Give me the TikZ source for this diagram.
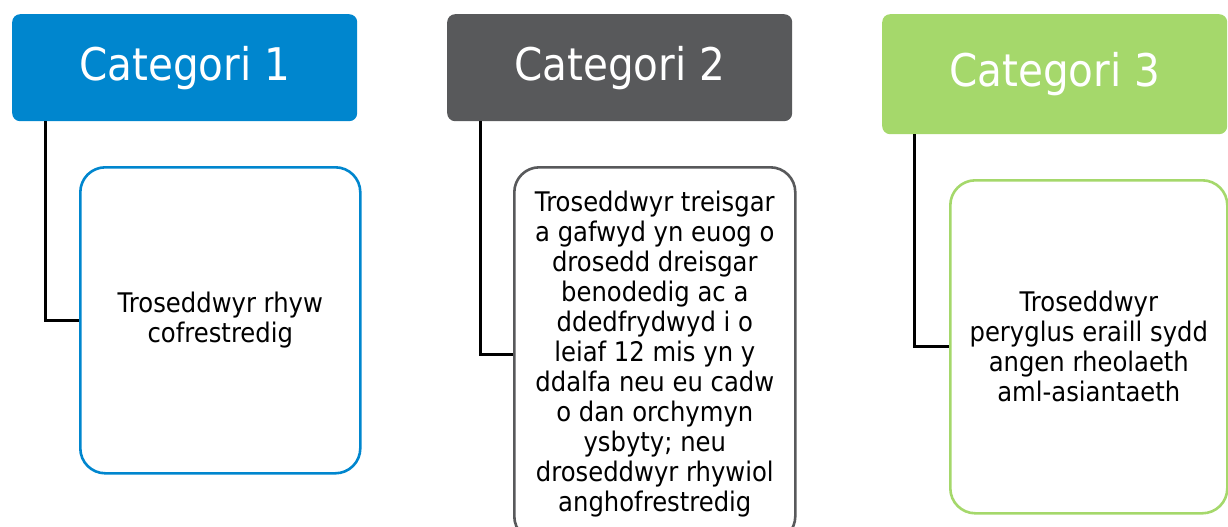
\documentclass[tikz,border=0pt]{standalone}
\usepackage{fontspec}
\setmainfont{DejaVu Sans}[FakeStretch=0.9]
\usetikzlibrary{positioning}
\definecolor{catblue}{RGB}{0,134,206}
\definecolor{catgrey}{RGB}{88,89,91}
\definecolor{catgreen}{RGB}{165,216,107}

\begin{document}
\begin{tikzpicture}[x=1pt,y=-1pt]

        \useasboundingbox (0,0) rectangle (1228,527);

        \begin{scope}[every node/.style={rectangle,rounded corners=8pt,anchor=north west,
            minimum width=345pt,inner sep=0pt,text=white,font=\fontsize{45}{54}\selectfont}]
            \node[fill=catblue,minimum height=107pt] (H1) at (12,14) {Categori 1};
            \node[fill=catgrey,minimum height=107pt] (H2) at (447,14) {Categori 2};
            \node[fill=catgreen,minimum height=120pt] (H3) at (882,14) {Categori 3};
        \end{scope}

        \begin{scope}[every node/.style={rectangle,rounded corners=25pt,draw,line width=2.6pt,
            anchor=north west,fill=white,align=center,font=\fontsize{27}{30}\selectfont}]
            \node[draw=catblue,minimum width=280pt,minimum height=306pt] (B1) at (79,166)
                {Troseddwyr rhyw\\cofrestredig};
            \node[draw=catgrey,minimum width=281pt,minimum height=374pt] (B2) at (513,166)
                {Troseddwyr treisgar\\a gafwyd yn euog o\\drosedd dreisgar\\benodedig ac a\\
                ddedfrydwyd i o\\leiaf 12 mis yn y\\ddalfa neu eu cadw\\o dan orchymyn\\
                ysbyty; neu\\droseddwyr rhywiol\\anghofrestredig};
            \node[draw=catgreen,minimum width=277pt,minimum height=333pt] (B3) at (949,179)
                {Troseddwyr\\peryglus eraill sydd\\angen rheolaeth\\aml-asiantaeth};
        \end{scope}

        \begin{scope}[line width=3pt]
            \draw ([xshift=33pt]H1.south west) |- (B1.west);
            \draw ([xshift=33pt]H2.south west) |- (B2.west);
            \draw ([xshift=32pt]H3.south west) |- (B3.west);
        \end{scope}
    \end{tikzpicture}
\end{document}
